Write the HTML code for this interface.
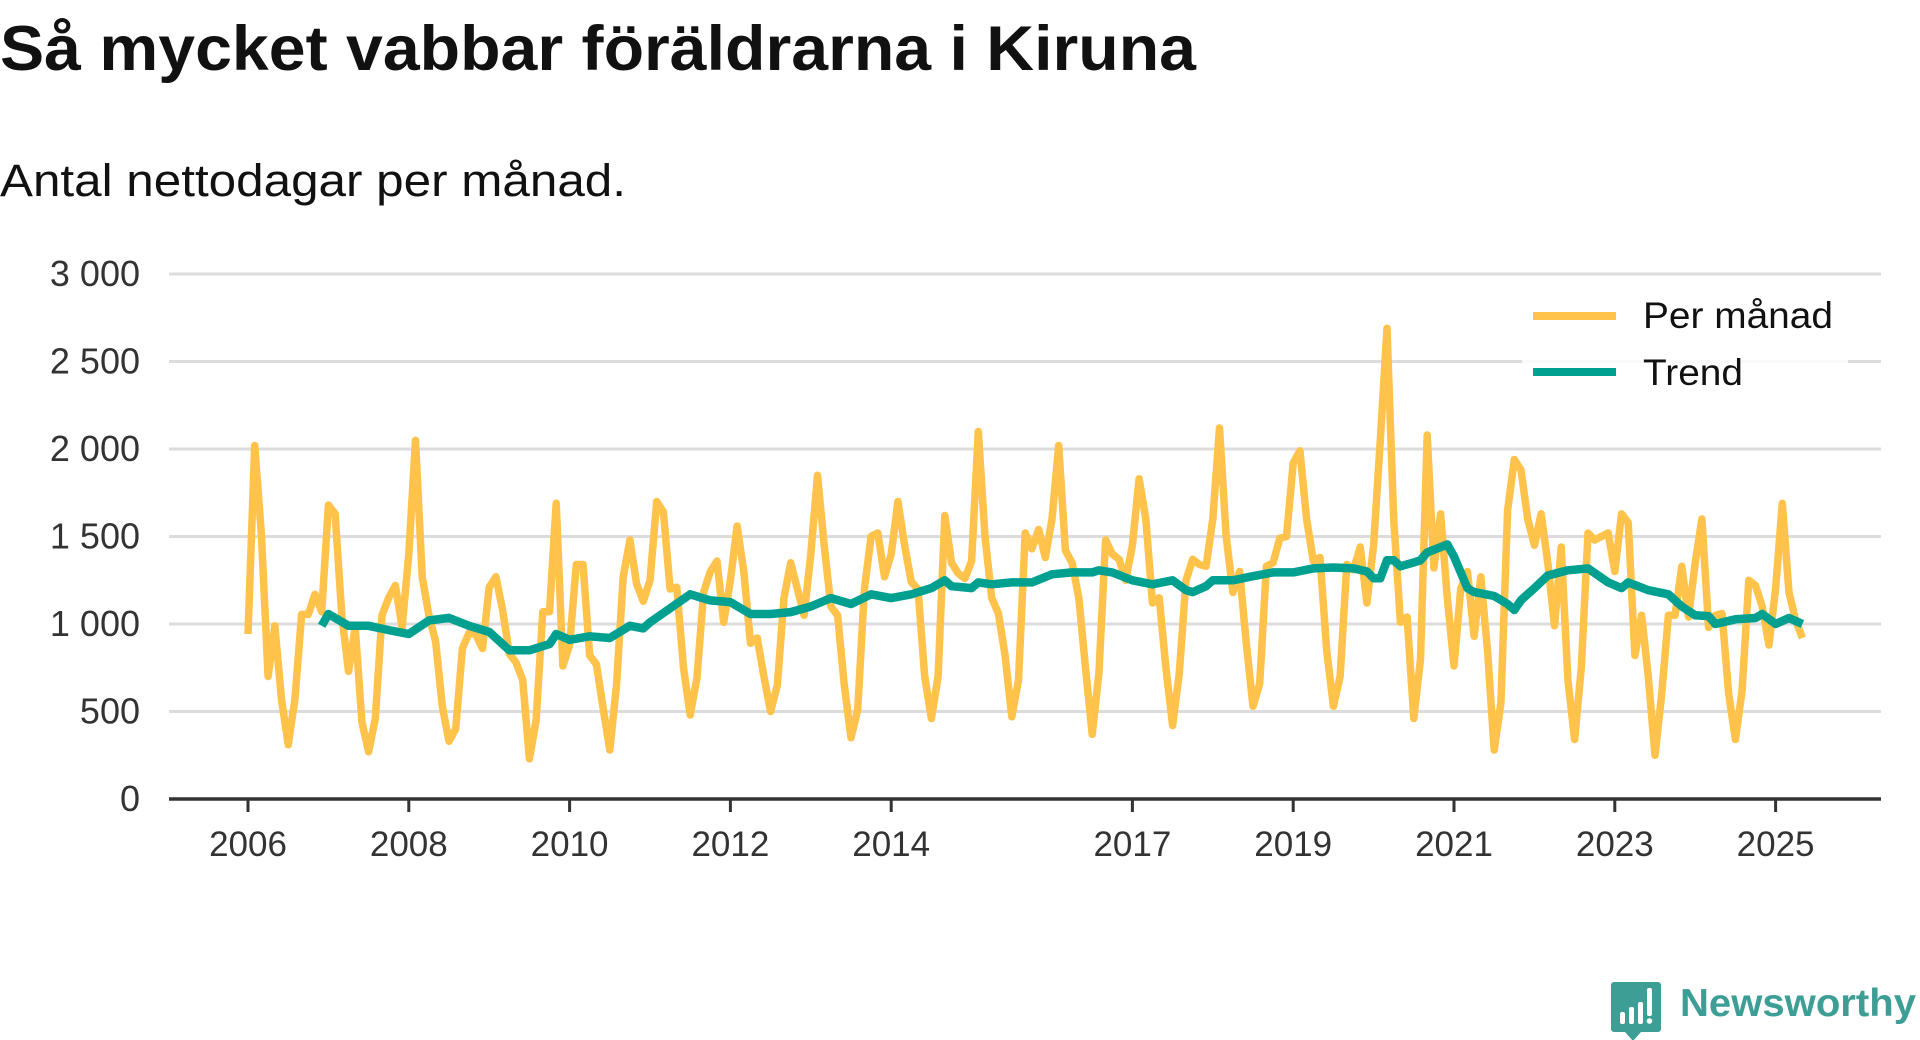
<!DOCTYPE html>
<html><head><meta charset="utf-8">
<style>
html,body{margin:0;padding:0;background:#fff;}
body{width:1920px;height:1040px;overflow:hidden;font-family:"Liberation Sans",sans-serif;}
svg{display:block;}
</style></head>
<body>
<svg id="chart" width="1920" height="1040" viewBox="0 0 1920 1040">
  <text x="0" y="70" font-size="63" font-weight="bold" fill="#111" textLength="1196" lengthAdjust="spacingAndGlyphs">Så mycket vabbar föräldrarna i Kiruna</text>
  <text x="0" y="196" font-size="45" fill="#111" textLength="626" lengthAdjust="spacingAndGlyphs">Antal nettodagar per månad.</text>
  <g id="grid"></g>
  <g id="yaxis"></g>
  <g id="xaxis"></g>
  <g id="series"></g>
  <g id="legend">
    <rect x="1522" y="292" width="326" height="110" fill="#fff" opacity="0.85"/>
    <g>
      <line x1="1533" y1="316" x2="1616" y2="316" stroke="#FFC24B" stroke-width="8"/>
      <text x="1643" y="328" font-size="37" fill="#111" textLength="190" lengthAdjust="spacingAndGlyphs">Per månad</text>
    </g>
    <g>
      <line x1="1533" y1="372" x2="1616" y2="372" stroke="#00A091" stroke-width="8"/>
      <text x="1643" y="385" font-size="37" fill="#111" textLength="100" lengthAdjust="spacingAndGlyphs">Trend</text>
    </g>
  </g>
  <g>
    <path d="M1614 982 h44 a3 3 0 0 1 3 3 v44 a3 3 0 0 1 -3 3 h-17 l-8 9 l-8 -9 h-11 a3 3 0 0 1 -3 -3 v-44 a3 3 0 0 1 3 -3z" fill="#3d9e96"/>
    <rect x="1620" y="1012" width="5" height="12" rx="2" fill="#fff"/>
    <rect x="1629" y="1007" width="5" height="17" rx="2" fill="#fff"/>
    <rect x="1638" y="1002" width="5" height="22" rx="2" fill="#fff"/>
    <rect x="1647" y="988" width="5" height="28" rx="2" fill="#fff"/>
    <circle cx="1649.5" cy="1021" r="2.8" fill="#fff"/>
    <text x="1680" y="1016" font-size="39" font-weight="bold" fill="#3d9e96" textLength="236" lengthAdjust="spacingAndGlyphs">Newsworthy</text>
  </g>
</svg>
<script>
const yTicks = [0, 500, 1000, 1500, 2000, 2500, 3000];
const yTickLabels = ["0", "500", "1 000", "1 500", "2 000", "2 500", "3 000"];
const xTickYears = [2006, 2008, 2010, 2012, 2014, 2017, 2019, 2021, 2023, 2025];
const startYear = 2006;
// monthly values from Jan 2006 to May 2025
const monthlyValues = [
 943,2020,1510,700,990,570,310,570,1055,1055,1170,1070,
 1680,1630,1050,730,980,440,270,460,1050,1150,1220,980,
 1400,2050,1270,1050,900,530,330,400,860,950,940,860,
 1210,1270,1080,830,780,680,230,450,1070,1070,1690,760,
 880,1340,1340,820,770,520,280,650,1270,1480,1230,1130,
 1250,1700,1640,1200,1210,750,480,690,1180,1300,1360,1010,
 1250,1560,1300,890,920,700,500,650,1150,1350,1200,1050,
 1400,1850,1450,1100,1050,650,350,510,1200,1500,1520,1270,
 1400,1700,1450,1240,1200,700,460,700,1620,1350,1290,1260,
 1360,2100,1500,1150,1060,820,470,680,1520,1430,1540,1380,
 1600,2020,1420,1350,1150,750,370,720,1480,1400,1370,1250,
 1450,1830,1600,1120,1150,750,420,720,1250,1370,1340,1330,
 1600,2120,1500,1180,1300,890,530,660,1330,1350,1490,1500,
 1920,1990,1600,1360,1380,850,530,700,1340,1310,1440,1120,
 1450,2050,2690,1600,1010,1040,460,800,2080,1320,1630,1150,
 760,1200,1300,930,1270,850,280,550,1650,1940,1880,1600,
 1450,1630,1350,990,1440,680,340,750,1520,1480,1500,1520,
 1300,1630,1580,820,1050,700,250,600,1050,1050,1330,1040,
 1350,1600,980,1050,1060,600,340,620,1250,1220,1100,880,
 1200,1690,1180,1020,920
];
const trendMonths = ["2006-12","2007-01","2007-04","2007-07","2007-10","2008-01","2008-04","2008-07","2008-10","2009-01","2009-04","2009-07","2009-10","2009-11","2010-01","2010-04","2010-07","2010-10","2010-12","2011-01","2011-04","2011-07","2011-10","2012-01","2012-04","2012-07","2012-10","2013-01","2013-04","2013-07","2013-10","2014-01","2014-04","2014-07","2014-09","2014-10","2015-01","2015-02","2015-04","2015-07","2015-10","2016-01","2016-04","2016-07","2016-08","2016-10","2017-01","2017-04","2017-07","2017-09","2017-10","2017-12","2018-01","2018-04","2018-07","2018-10","2019-01","2019-04","2019-07","2019-10","2019-12","2020-01","2020-02","2020-03","2020-04","2020-05","2020-07","2020-08","2020-09","2020-12","2021-01","2021-03","2021-04","2021-07","2021-09","2021-10","2021-11","2022-01","2022-03","2022-06","2022-09","2022-12","2023-02","2023-03","2023-06","2023-09","2023-11","2024-01","2024-03","2024-04","2024-07","2024-10","2024-11","2025-01","2025-03","2025-05"];
const trendValues = [990,1057,990,990,965,943,1020,1035,990,955,850,850,885,943,910,930,920,990,975,1010,1090,1170,1135,1125,1057,1057,1068,1100,1148,1114,1170,1148,1170,1205,1250,1216,1205,1238,1227,1238,1238,1284,1295,1295,1307,1295,1250,1227,1250,1193,1182,1216,1250,1250,1273,1295,1295,1318,1323,1318,1300,1261,1261,1364,1364,1330,1352,1364,1409,1455,1386,1205,1182,1160,1114,1080,1136,1205,1277,1307,1318,1238,1205,1238,1193,1170,1100,1050,1045,1000,1027,1034,1057,1000,1034,1000];

const NS = "http://www.w3.org/2000/svg";
const X0 = 169, X1 = 1881, Y0 = 799, Y3000 = 274;
const X2006 = 248, PXYEAR = 80.4;
function xScale(yearFrac){ return X2006 + (yearFrac - 2006) * PXYEAR; }
function yScale(v){ return Y0 - (v / 3000) * (Y0 - Y3000); }
function mk(tag, attrs, parent){
  const el = document.createElementNS(NS, tag);
  for (const k in attrs) el.setAttribute(k, attrs[k]);
  parent.appendChild(el);
  return el;
}
const grid = document.getElementById('grid');
const yaxis = document.getElementById('yaxis');
const xaxis = document.getElementById('xaxis');
const series = document.getElementById('series');

yTicks.forEach((t, i) => {
  if (t > 0) {
    const g = mk('line', {x1:X0, x2:X1, y1:yScale(t), y2:yScale(t), stroke:'#dcdcdc', 'stroke-width':3}, grid);
    
    
  }
  const lb = mk('text', {x:140, y:yScale(t)+12, 'text-anchor':'end', 'font-size':36, fill:'#333'}, yaxis);
  lb.textContent = yTickLabels[i];
  
  
});

const ax = mk('line', {x1:X0, x2:X1, y1:Y0, y2:Y0, stroke:'#333', 'stroke-width':3.5}, xaxis);


xTickYears.forEach(yr => {
  const x = xScale(yr);
  const tk = mk('line', {x1:x, x2:x, y1:Y0, y2:Y0+13, stroke:'#333', 'stroke-width':3}, xaxis);
  
  
  const lb = mk('text', {x:x, y:856, 'text-anchor':'middle', 'font-size':35, fill:'#333'}, xaxis);
  lb.textContent = String(yr);
  
  
});

const monthlyPts = monthlyValues.map((v, i) => xScale(startYear + i/12).toFixed(1) + ',' + yScale(v).toFixed(1));
const mLine = mk('polyline', {points: monthlyPts.join(' '), fill:'none', stroke:'#FFC24B', 'stroke-width':7.5, 'stroke-linejoin':'round'}, series);



const trendPts = trendMonths.map((m, i) => {
  const p = m.split('-');
  const yf = parseInt(p[0]) + (parseInt(p[1]) - 1)/12;
  return xScale(yf).toFixed(1) + ',' + yScale(trendValues[i]).toFixed(1);
});
const tLine = mk('polyline', {points: trendPts.join(' '), fill:'none', stroke:'#00A091', 'stroke-width':8.5, 'stroke-linejoin':'round'}, series);


</script>
</body></html>
